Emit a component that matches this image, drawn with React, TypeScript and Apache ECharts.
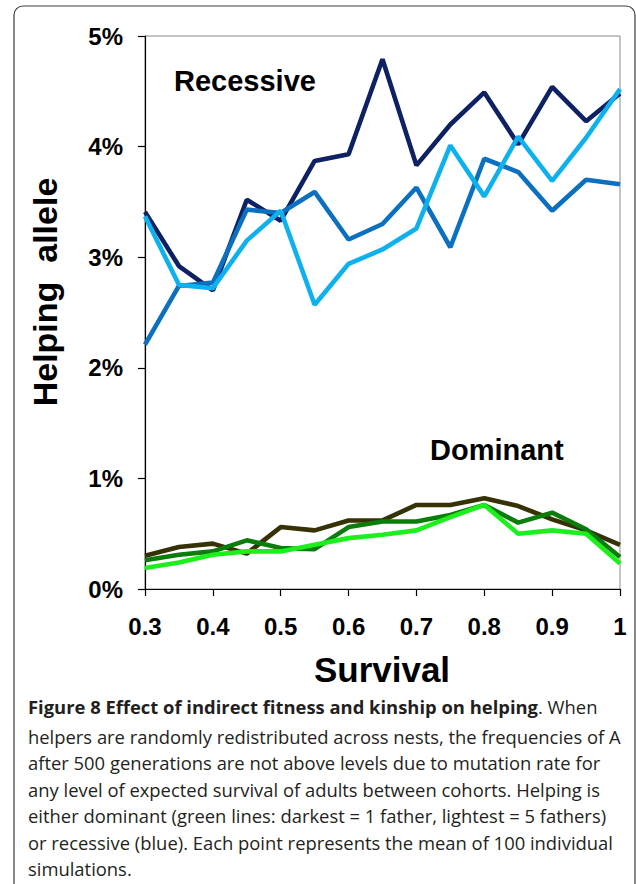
import React, { useEffect, useRef } from "react";
import * as echarts from "echarts";

const categories = ["0.3", "0.35", "0.4", "0.45", "0.5", "0.55", "0.6", "0.65", "0.7", "0.75", "0.8", "0.85", "0.9", "0.95", "1"];

const recessive1 = [3.41, 2.92, 2.7, 3.52, 3.33, 3.87, 3.93, 4.79, 3.83, 4.2, 4.49, 4.02, 4.54, 4.23, 4.48];
const recessive2 = [2.21, 2.74, 2.77, 3.43, 3.4, 3.59, 3.16, 3.3, 3.63, 3.09, 3.89, 3.77, 3.42, 3.7, 3.66];
const recessive3 = [3.37, 2.75, 2.72, 3.15, 3.42, 2.57, 2.94, 3.07, 3.26, 4.01, 3.55, 4.09, 3.69, 4.08, 4.52];

const dominant1 = [0.3, 0.38, 0.41, 0.32, 0.56, 0.53, 0.62, 0.62, 0.76, 0.76, 0.82, 0.75, 0.63, 0.53, 0.4];
const dominant2 = [0.26, 0.31, 0.34, 0.44, 0.37, 0.36, 0.56, 0.61, 0.61, 0.67, 0.76, 0.6, 0.69, 0.54, 0.29];
const dominant3 = [0.19, 0.24, 0.31, 0.34, 0.34, 0.4, 0.46, 0.49, 0.53, 0.65, 0.76, 0.5, 0.53, 0.5, 0.23];

const yTicks = { min: 0, max: 5, interval: 1 };

const captionBold = "Figure 8 Effect of indirect fitness and kinship on helping";
const captionLines = [
  ". When",
  "helpers are randomly redistributed across nests, the frequencies of A",
  "after 500 generations are not above levels due to mutation rate for",
  "any level of expected survival of adults between cohorts. Helping is",
  "either dominant (green lines: darkest = 1 father, lightest = 5 fathers)",
  "or recessive (blue). Each point represents the mean of 100 individual",
  "simulations.",
];

const seriesDefs = [
  { name: "Recessive 1 father", data: recessive1, color: "#0d2163" },
  { name: "Recessive 2", data: recessive2, color: "#0a70bf" },
  { name: "Recessive 5 fathers", data: recessive3, color: "#0db1ee" },
  { name: "Dominant 1 father", data: dominant1, color: "#363205" },
  { name: "Dominant 2", data: dominant2, color: "#0a7d0a" },
  { name: "Dominant 5 fathers", data: dominant3, color: "#1cf01c" },
];

const ARIAL = "'Liberation Sans', Arial, sans-serif";
const CAPTION_FONT = "'Open Sans', 'Noto Sans', sans-serif";
const CAP_SIZE = 18.4;

export default function App() {
  const ref = useRef<HTMLDivElement>(null);

  useEffect(() => {
    if (!ref.current) return;
    const chart = echarts.init(ref.current, null, { renderer: "svg" });

    const captionGraphics: any[] = captionLines.map((line, i) => {
      if (i === 0) {
        return {
          type: "text",
          left: 28,
          top: 710 - 13,
          style: {
            text: "{b|" + captionBold + "}" + line,
            font: `${CAP_SIZE}px ${CAPTION_FONT}`,
            fill: "#231f20",
            rich: {
              b: { fontWeight: "bold", fontSize: CAP_SIZE, fontFamily: CAPTION_FONT, fill: "#231f20" },
            },
          },
        };
      }
      return {
        type: "text",
        x: 28,
        y: 710 + i * 26.4,
        style: {
          text: line,
          font: `${CAP_SIZE}px ${CAPTION_FONT}`,
          fill: "#231f20",
          textVerticalAlign: "middle",
        },
      };
    });

    chart.setOption({
      animation: false,
      backgroundColor: "#ffffff",
      grid: {
        left: 145,
        right: 16,
        top: 36,
        bottom: 295,
        show: true,
        borderColor: "#8a8a8a",
        borderWidth: 1,
        backgroundColor: "transparent",
      },
      xAxis: {
        type: "category",
        data: categories,
        boundaryGap: false,
        axisLine: { lineStyle: { color: "#000", width: 1.2 } },
        axisTick: { show: true, interval: 1, length: 7, lineStyle: { color: "#000", width: 1.2 } },
        axisLabel: {
          interval: 1,
          margin: 25,
          color: "#000",
          fontFamily: ARIAL,
          fontWeight: "bold",
          fontSize: 24,
        },
        splitLine: { show: false },
      },
      yAxis: {
        type: "value",
        min: yTicks.min,
        max: yTicks.max,
        interval: yTicks.interval,
        axisLine: { show: true, lineStyle: { color: "#000", width: 1.2 } },
        axisTick: { show: true, length: 7, lineStyle: { color: "#000", width: 1.2 } },
        axisLabel: {
          formatter: "{value}%",
          margin: 22,
          color: "#000",
          fontFamily: ARIAL,
          fontWeight: "bold",
          fontSize: 24,
        },
        splitLine: { show: false },
      },
      series: seriesDefs.map((s) => ({
        name: s.name,
        type: "line",
        data: s.data,
        symbol: "none",
        lineStyle: { color: s.color, width: 4.6 },
        itemStyle: { color: s.color },
      })),
      graphic: [
        {
          type: "rect",
          shape: { x: 14, y: 6, width: 621, height: 920, r: 9 },
          style: { fill: "none", stroke: "#3a3a3a", lineWidth: 1.2 },
          silent: true,
        },
        {
          type: "text",
          x: 174,
          y: 81,
          style: { text: "Recessive", font: `bold 29px ${ARIAL}`, fill: "#000", textVerticalAlign: "middle" },
        },
        {
          type: "text",
          x: 430,
          y: 450,
          style: { text: "Dominant", font: `bold 29px ${ARIAL}`, fill: "#000", textVerticalAlign: "middle" },
        },
        {
          type: "text",
          x: 45,
          y: 292,
          rotation: Math.PI / 2,
          style: {
            text: "Helping  allele",
            font: `bold 34px ${ARIAL}`,
            fill: "#000",
            textAlign: "center",
            textVerticalAlign: "middle",
          },
        },
        {
          type: "text",
          x: 382,
          y: 669,
          style: {
            text: "Survival",
            font: `bold 35px ${ARIAL}`,
            fill: "#000",
            textAlign: "center",
            textVerticalAlign: "middle",
          },
        },
        ...captionGraphics,
      ],
    });

    return () => chart.dispose();
  }, []);

  return (
    <div style={{ position: "absolute", left: 0, top: 0 }}>
      <div ref={ref} style={{ width: 636, height: 884 }} />
    </div>
  );
}
